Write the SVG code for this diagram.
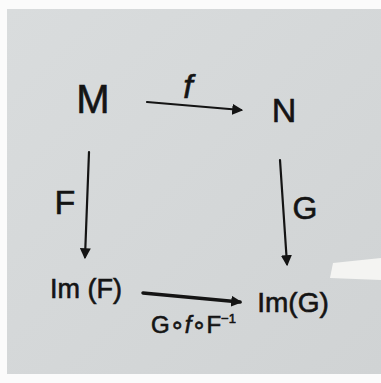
<svg xmlns="http://www.w3.org/2000/svg" width="381" height="383" viewBox="0 0 381 383">
<defs>
<style>
.t{font-family:"Liberation Sans","DejaVu Sans",sans-serif;fill:#141414;stroke:#141414;stroke-width:0.6;}
.a{stroke:#141414;fill:none;stroke-linecap:round;}
</style>
<marker id="ah" viewBox="0 0 10 10" refX="8" refY="5" markerWidth="11" markerHeight="11" markerUnits="userSpaceOnUse" orient="auto">
<path d="M0,0 L10,5 L0,10 Z" fill="#141414"/>
</marker>
<linearGradient id="bg" x1="0" y1="0" x2="1" y2="1">
<stop offset="0" stop-color="#d9dcdd"/>
<stop offset="1" stop-color="#d0d3d4"/>
</linearGradient>
</defs>
<rect width="381" height="383" fill="#fbfbfb"/>
<rect x="7" y="9" width="374" height="365" fill="url(#bg)"/>
<polygon points="333,263 381,258 381,280 330,278" fill="#f4f4f2"/>
<g id="node-M"><text class="t" x="93" y="113" font-size="40" text-anchor="middle">M</text></g>
<g id="node-N"><text class="t" x="284" y="122" font-size="34" text-anchor="middle">N</text></g>
<g id="node-ImF"><text class="t" x="86" y="298" font-size="27" text-anchor="middle">Im (F)</text></g>
<g id="node-ImG"><text class="t" x="293" y="312" font-size="28" text-anchor="middle">Im(G)</text></g>
<g id="connectors">
<line class="a" x1="147" y1="102" x2="241" y2="110" stroke-width="2.2" marker-end="url(#ah)"/>
<line class="a" x1="89" y1="152" x2="85" y2="257" stroke-width="2.2" marker-end="url(#ah)"/>
<line class="a" x1="280" y1="160" x2="287" y2="264" stroke-width="2.2" marker-end="url(#ah)"/>
<line class="a" x1="143" y1="293" x2="240" y2="302" stroke-width="3.5" marker-end="url(#ah)"/>
<text class="t" x="188" y="98" font-size="34" font-style="italic" text-anchor="middle">f</text>
<text class="t" x="65" y="214" font-size="34" text-anchor="middle">F</text>
<text class="t" x="305" y="219" font-size="32" text-anchor="middle">G</text>
<text class="t" x="151" y="333" font-size="24">G∘<tspan font-style="italic">f</tspan>∘F<tspan font-size="13" dy="-10">−1</tspan></text>
</g>
</svg>
